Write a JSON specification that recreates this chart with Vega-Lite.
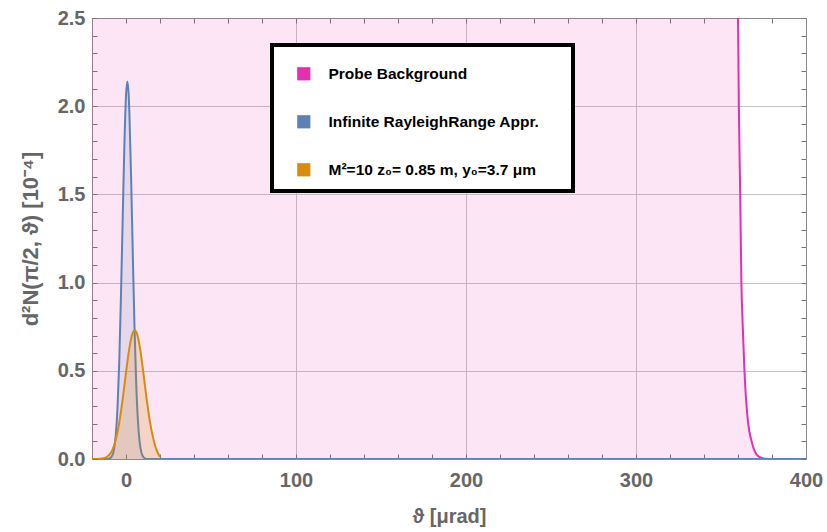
{
  "$schema": "https://vega.github.io/schema/vega-lite/v6.json",
  "width": 714,
  "height": 441,
  "autosize": {"type": "none"},
  "padding": {"left": 92, "top": 18, "right": 21, "bottom": 73},
  "background": "white",
  "config": {
    "view": {"stroke": null},
    "font": "Liberation Sans",
    "axis": {
      "labelFont": "Liberation Sans", "labelFontWeight": "bold", "labelFontSize": 20, "labelColor": "#666666",
      "titleFont": "Liberation Sans", "titleFontWeight": "bold", "titleFontSize": 20, "titleColor": "#666666",
      "domainColor": "#8a8a8a", "domainWidth": 1, "tickColor": "#777777", "tickWidth": 1,
      "gridColor": "#c4c4c4", "gridWidth": 1
    }
  },
  "data": {"values": [
    {"s": "p", "series": "Probe Background", "x": -20, "y": 60},
    {"s": "p", "series": "Probe Background", "x": 300, "y": 20},
    {"s": "p", "series": "Probe Background", "x": 350, "y": 6},
    {"s": "p", "series": "Probe Background", "x": 358, "y": 3.2},
    {"s": "p", "series": "Probe Background", "x": 360, "y": 2.5},
    {"s": "p", "series": "Probe Background", "x": 360.5, "y": 2.0},
    {"s": "p", "series": "Probe Background", "x": 361.3, "y": 1.5},
    {"s": "p", "series": "Probe Background", "x": 362, "y": 1.0},
    {"s": "p", "series": "Probe Background", "x": 362.8, "y": 0.75},
    {"s": "p", "series": "Probe Background", "x": 363.8, "y": 0.5},
    {"s": "p", "series": "Probe Background", "x": 364.8, "y": 0.33},
    {"s": "p", "series": "Probe Background", "x": 366, "y": 0.2},
    {"s": "p", "series": "Probe Background", "x": 368, "y": 0.1},
    {"s": "p", "series": "Probe Background", "x": 370, "y": 0.04},
    {"s": "p", "series": "Probe Background", "x": 372, "y": 0.015},
    {"s": "p", "series": "Probe Background", "x": 376, "y": 0.002},
    {"s": "p", "series": "Probe Background", "x": 380, "y": 0},
    {"s": "p", "series": "Probe Background", "x": 400, "y": 0},

    {"s": "b", "series": "Infinite RayleighRange Appr.", "x": -20, "y": 0},
    {"s": "b", "series": "Infinite RayleighRange Appr.", "x": -12, "y": 0},
    {"s": "b", "series": "Infinite RayleighRange Appr.", "x": -10, "y": 0.002},
    {"s": "b", "series": "Infinite RayleighRange Appr.", "x": -8, "y": 0.021},
    {"s": "b", "series": "Infinite RayleighRange Appr.", "x": -7, "y": 0.057},
    {"s": "b", "series": "Infinite RayleighRange Appr.", "x": -6, "y": 0.137},
    {"s": "b", "series": "Infinite RayleighRange Appr.", "x": -5, "y": 0.29},
    {"s": "b", "series": "Infinite RayleighRange Appr.", "x": -4, "y": 0.54},
    {"s": "b", "series": "Infinite RayleighRange Appr.", "x": -3, "y": 0.91},
    {"s": "b", "series": "Infinite RayleighRange Appr.", "x": -2, "y": 1.34},
    {"s": "b", "series": "Infinite RayleighRange Appr.", "x": -1, "y": 1.76},
    {"s": "b", "series": "Infinite RayleighRange Appr.", "x": 0, "y": 2.06},
    {"s": "b", "series": "Infinite RayleighRange Appr.", "x": 0.8, "y": 2.14},
    {"s": "b", "series": "Infinite RayleighRange Appr.", "x": 1.6, "y": 2.06},
    {"s": "b", "series": "Infinite RayleighRange Appr.", "x": 2, "y": 1.96},
    {"s": "b", "series": "Infinite RayleighRange Appr.", "x": 3, "y": 1.60},
    {"s": "b", "series": "Infinite RayleighRange Appr.", "x": 4, "y": 1.16},
    {"s": "b", "series": "Infinite RayleighRange Appr.", "x": 5, "y": 0.75},
    {"s": "b", "series": "Infinite RayleighRange Appr.", "x": 6, "y": 0.43},
    {"s": "b", "series": "Infinite RayleighRange Appr.", "x": 7, "y": 0.22},
    {"s": "b", "series": "Infinite RayleighRange Appr.", "x": 8, "y": 0.098},
    {"s": "b", "series": "Infinite RayleighRange Appr.", "x": 9, "y": 0.039},
    {"s": "b", "series": "Infinite RayleighRange Appr.", "x": 10, "y": 0.014},
    {"s": "b", "series": "Infinite RayleighRange Appr.", "x": 11, "y": 0.004},
    {"s": "b", "series": "Infinite RayleighRange Appr.", "x": 12, "y": 0},
    {"s": "b", "series": "Infinite RayleighRange Appr.", "x": 400, "y": 0},

    {"s": "o", "series": "M²=10 z₀= 0.85 m, y₀=3.7 μm", "x": -20, "y": 0},
    {"s": "o", "series": "M²=10 z₀= 0.85 m, y₀=3.7 μm", "x": -15, "y": 0.002},
    {"s": "o", "series": "M²=10 z₀= 0.85 m, y₀=3.7 μm", "x": -12, "y": 0.008},
    {"s": "o", "series": "M²=10 z₀= 0.85 m, y₀=3.7 μm", "x": -10, "y": 0.022},
    {"s": "o", "series": "M²=10 z₀= 0.85 m, y₀=3.7 μm", "x": -8, "y": 0.052},
    {"s": "o", "series": "M²=10 z₀= 0.85 m, y₀=3.7 μm", "x": -6, "y": 0.11},
    {"s": "o", "series": "M²=10 z₀= 0.85 m, y₀=3.7 μm", "x": -4, "y": 0.204},
    {"s": "o", "series": "M²=10 z₀= 0.85 m, y₀=3.7 μm", "x": -2, "y": 0.336},
    {"s": "o", "series": "M²=10 z₀= 0.85 m, y₀=3.7 μm", "x": 0, "y": 0.489},
    {"s": "o", "series": "M²=10 z₀= 0.85 m, y₀=3.7 μm", "x": 2, "y": 0.63},
    {"s": "o", "series": "M²=10 z₀= 0.85 m, y₀=3.7 μm", "x": 4, "y": 0.716},
    {"s": "o", "series": "M²=10 z₀= 0.85 m, y₀=3.7 μm", "x": 5.1, "y": 0.73},
    {"s": "o", "series": "M²=10 z₀= 0.85 m, y₀=3.7 μm", "x": 6, "y": 0.721},
    {"s": "o", "series": "M²=10 z₀= 0.85 m, y₀=3.7 μm", "x": 8, "y": 0.642},
    {"s": "o", "series": "M²=10 z₀= 0.85 m, y₀=3.7 μm", "x": 10, "y": 0.505},
    {"s": "o", "series": "M²=10 z₀= 0.85 m, y₀=3.7 μm", "x": 12, "y": 0.351},
    {"s": "o", "series": "M²=10 z₀= 0.85 m, y₀=3.7 μm", "x": 14, "y": 0.216},
    {"s": "o", "series": "M²=10 z₀= 0.85 m, y₀=3.7 μm", "x": 16, "y": 0.117},
    {"s": "o", "series": "M²=10 z₀= 0.85 m, y₀=3.7 μm", "x": 18, "y": 0.05},
    {"s": "o", "series": "M²=10 z₀= 0.85 m, y₀=3.7 μm", "x": 20, "y": 0.012}
  ]},
  "encoding": {
    "x": {"field": "x", "type": "quantitative", "scale": {"domain": [-20, 400], "nice": false, "zero": false}},
    "y": {"field": "y", "type": "quantitative", "scale": {"domain": [0, 2.5], "nice": false}},
    "color": {"field": "series", "type": "nominal",
      "scale": {"domain": ["Probe Background", "Infinite RayleighRange Appr.", "M²=10 z₀= 0.85 m, y₀=3.7 μm"],
                "range": ["#E32FB0", "#5E81B5", "#D98B0E"]},
      "legend": null}
  },
  "layer": [
    {
      "transform": [{"filter": "datum.s === 'p'"}],
      "mark": {"type": "area", "opacity": 0.12, "clip": true, "interpolate": "monotone"},
      "encoding": {
        "x": {"field": "x", "type": "quantitative",
          "axis": {"orient": "bottom", "title": "ϑ [μrad]", "titlePadding": 16,
            "values": [-20, 0, 20, 40, 60, 80, 100, 120, 140, 160, 180, 200, 220, 240, 260, 280, 300, 320, 340, 360, 380, 400],
            "labelExpr": "datum.value % 100 === 0 ? datum.label : ''",
            "tickSize": -5, "labelPadding": 16, "labelFlush": false,
            "grid": true,
            "gridOpacity": {"condition": {"test": "datum.value % 100 === 0 && datum.value > 0 && datum.value < 400", "value": 1}, "value": 0}}},
        "y": {"field": "y", "type": "quantitative",
          "axis": {"orient": "left", "title": "d²N(π/2, ϑ) [10⁻⁴]", "titlePadding": 15, "titleFontSize": 22,
            "values": [0, 0.1, 0.2, 0.3, 0.4, 0.5, 0.6, 0.7, 0.8, 0.9, 1.0, 1.1, 1.2, 1.3, 1.4, 1.5, 1.6, 1.7, 1.8, 1.9, 2.0, 2.1, 2.2, 2.3, 2.4, 2.5],
            "format": ".1f",
            "labelExpr": "round(datum.value*10) % 5 === 0 ? datum.label : ''",
            "tickSize": -5,
            "labelPadding": 12, "labelFlush": false,
            "grid": true,
            "gridOpacity": {"condition": {"test": "round(datum.value*10) % 5 === 0 && datum.value > 0.01 && datum.value < 2.49", "value": 1}, "value": 0}}},
        "color": {"field": "series", "type": "nominal",
          "legend": {"orient": "none", "legendX": 180, "legendY": 27, "title": " ", "titleFontSize": 8, "titlePadding": 1,
            "symbolType": "square", "symbolSize": 160, "symbolOpacity": 1, "symbolStrokeWidth": 0.6, "symbolStrokeColor": "#555",
            "labelFont": "Liberation Sans", "labelFontWeight": "bold", "labelFontSize": 15.5, "labelColor": "black",
            "labelExpr": "datum.label + '\u00a0\u00a0\u2800'",
            "labelOffset": 17, "labelLimit": 500, "rowPadding": 31, "padding": 12, "symbolOffset": 12,
            "fillColor": "white", "cornerRadius": 0,
            "encode": {"legend": {"update": {"stroke": {"value": "black"}, "strokeWidth": {"value": 4}}}}}}
      }
    },
    {
      "transform": [{"filter": "datum.s === 'p'"}],
      "mark": {"type": "line", "strokeWidth": 2, "clip": true, "interpolate": "monotone"},
      "encoding": {
        "x": {"field": "x", "type": "quantitative",
          "axis": {"orient": "top", "title": null, "labels": false, "grid": false, "tickSize": -5,
            "values": [-20, 0, 20, 40, 60, 80, 100, 120, 140, 160, 180, 200, 220, 240, 260, 280, 300, 320, 340, 360, 380, 400]}},
        "y": {"field": "y", "type": "quantitative",
          "axis": {"orient": "right", "title": null, "labels": false, "grid": false,
            "values": [0, 0.1, 0.2, 0.3, 0.4, 0.5, 0.6, 0.7, 0.8, 0.9, 1.0, 1.1, 1.2, 1.3, 1.4, 1.5, 1.6, 1.7, 1.8, 1.9, 2.0, 2.1, 2.2, 2.3, 2.4, 2.5],
            "tickSize": -5}}
      }
    },
    {
      "transform": [{"filter": "datum.s === 'b'"}],
      "mark": {"type": "area", "opacity": 0.14, "clip": true, "interpolate": "monotone"},
      "encoding": {"x": {"field": "x", "type": "quantitative", "axis": null}, "y": {"field": "y", "type": "quantitative", "axis": null}}
    },
    {
      "transform": [{"filter": "datum.s === 'b'"}],
      "mark": {"type": "line", "strokeWidth": 2, "clip": true, "interpolate": "monotone"},
      "encoding": {"x": {"field": "x", "type": "quantitative", "axis": null}, "y": {"field": "y", "type": "quantitative", "axis": null}}
    },
    {
      "transform": [{"filter": "datum.s === 'o'"}],
      "mark": {"type": "area", "opacity": 0.2, "clip": true, "interpolate": "monotone"},
      "encoding": {"x": {"field": "x", "type": "quantitative", "axis": null}, "y": {"field": "y", "type": "quantitative", "axis": null}}
    },
    {
      "transform": [{"filter": "datum.s === 'o'"}],
      "mark": {"type": "line", "strokeWidth": 2, "clip": true, "interpolate": "monotone"},
      "encoding": {"x": {"field": "x", "type": "quantitative", "axis": null}, "y": {"field": "y", "type": "quantitative", "axis": null}}
    }
  ],
  "resolve": {"axis": {"x": "independent", "y": "independent"}}
}
